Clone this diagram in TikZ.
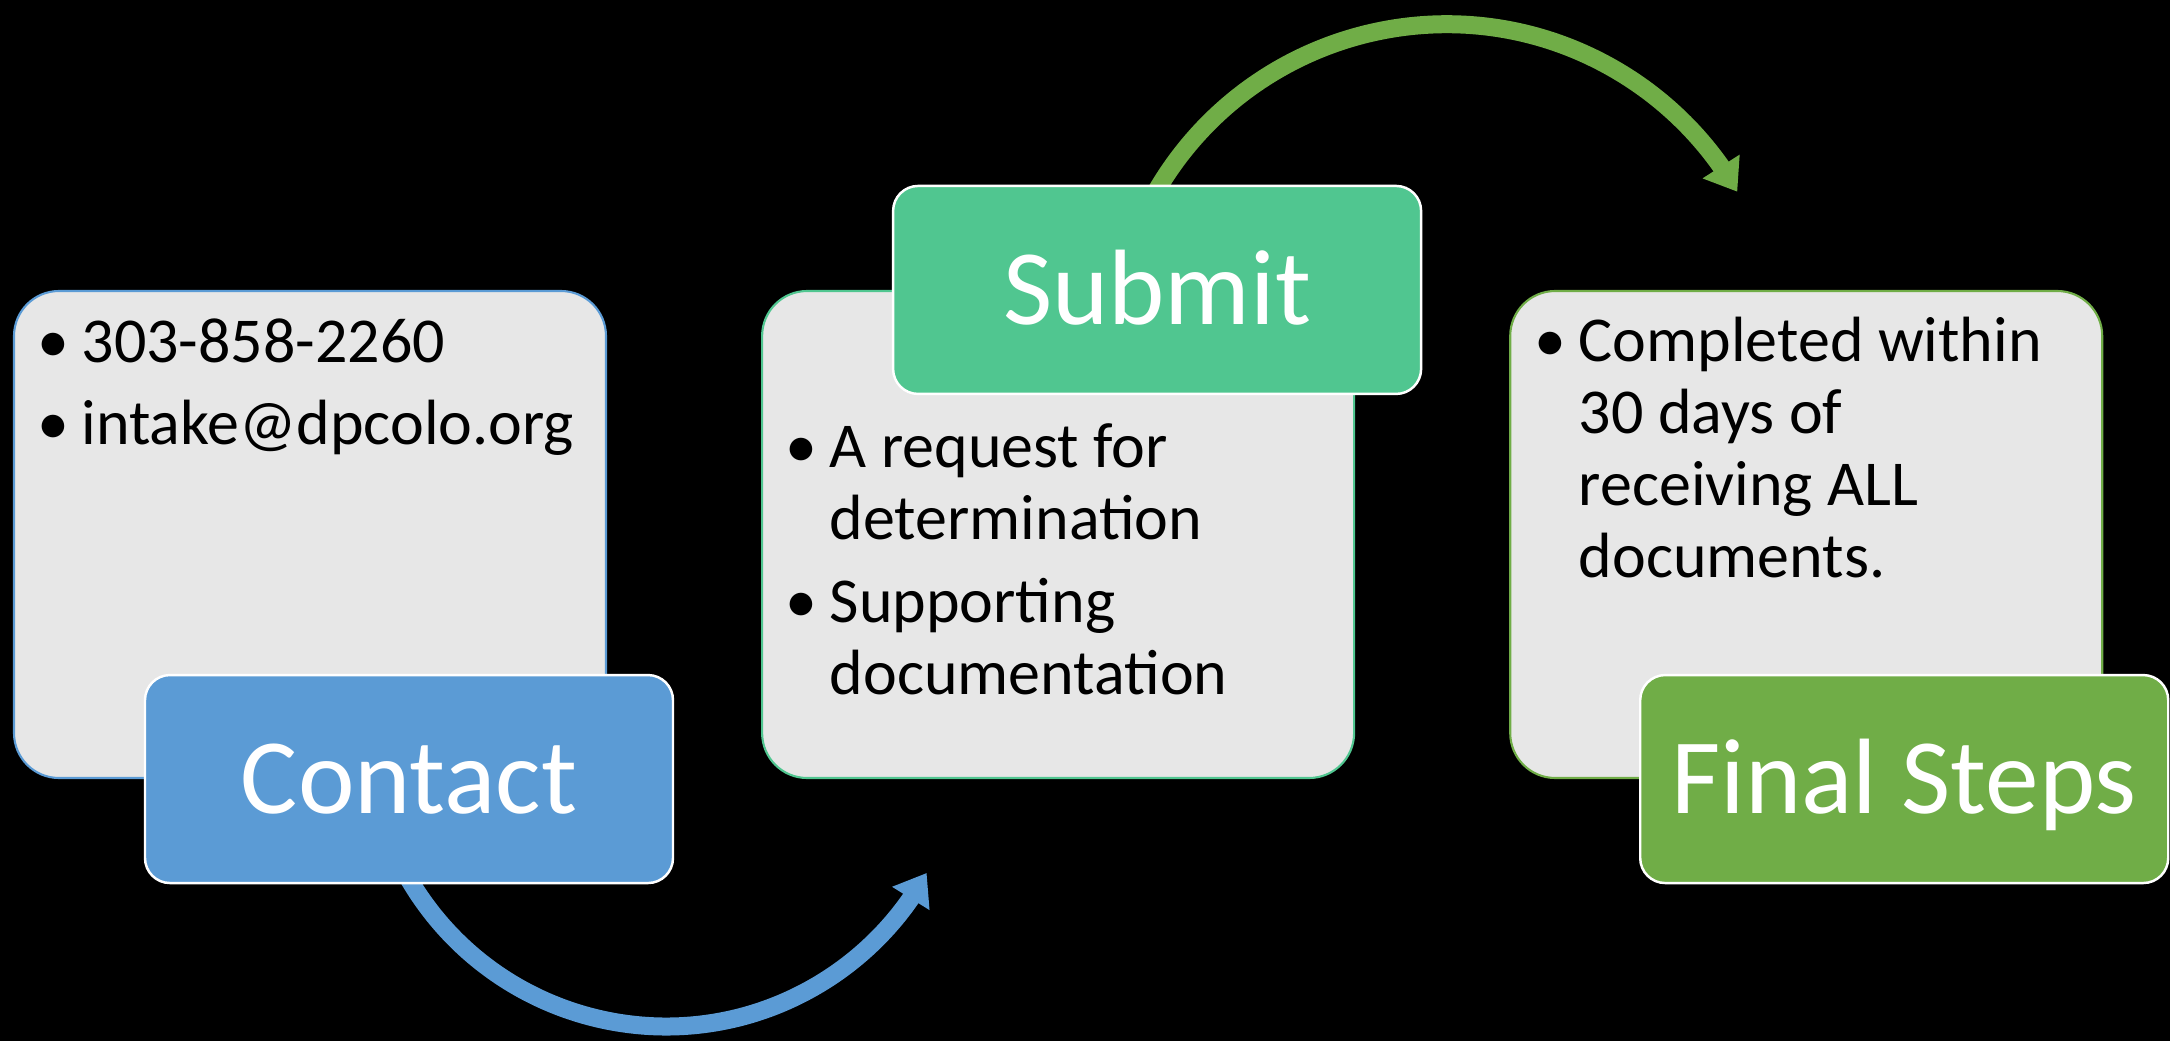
\documentclass[tikz,border=0pt]{standalone}
\usepackage{fontspec}
\setmainfont{Carlito}
\usetikzlibrary{positioning,arrows.meta,bending,backgrounds}

\definecolor{stepblue}{RGB}{91,155,213}
\definecolor{stepgreen}{RGB}{112,173,71}
\definecolor{stepteal}{RGB}{80,198,144}
\definecolor{panelgray}{RGB}{231,231,231}

% one bullet line with hanging indent
\newcommand{\bitem}[1]{\par\spaceskip=0pt\xspaceskip=0pt\hangindent=0.44cm\hangafter=1\noindent\strut\makebox[0.44cm][l]{\textbullet}#1}
\newcommand{\nl}{\hfil\break}

\begin{document}
\begin{tikzpicture}[
  panel/.style={draw=#1, line width=0.6pt, fill=panelgray, rounded corners=0.45cm,
    minimum width=5.92cm, minimum height=4.87cm, inner sep=0pt},
  stepbox/.style={draw=white, line width=0.7pt, fill=#1, rounded corners=0.25cm,
    minimum width=5.28cm, minimum height=2.08cm, inner sep=0pt, text=white,
    font=\fontsize{30.5pt}{36pt}\selectfont, text height=0.69cm, text depth=0pt},
  bullets/.style={anchor=north west, inner sep=0pt, text width=5.5cm, align=left,
    font=\fontsize{18.2pt}{20.5pt}\selectfont\setlength{\parskip}{3pt}},
  stepflow/.style={line width=0.18cm, draw=#1,
    -{Triangle[width=0.42cm,length=0.30cm,flex]}}
]
\useasboundingbox (0,0) rectangle (21.70,10.41);

% detail panels
\node[panel=stepblue] (info1) at (3.10,5.065) {};
\node[panel=stepteal] (info2) [right=1.54cm of info1] {};
\node[panel=stepgreen] (info3) [right=1.54cm of info2] {};

% step titles
\node[stepbox=stepblue] (contact) at ([xshift=0.99cm]info1.south) {Contact};
\node[stepbox=stepteal] (submit) at ([xshift=0.99cm]info2.north) {Submit};
\node[stepbox=stepgreen] (final) at ([xshift=0.98cm]info3.south) {Final Steps};

% bullet texts
\coordinate (list2top) at (info2.west |- submit.south);
\node[bullets] (list1) at ([shift={(0.24,0.11)}]info1.north west)
  {\bitem{303-858-2260}\bitem{intake@dpcolo.org}\par};
\node[bullets] (list2) at ([shift={(0.24,0.11)}]list2top)
  {\bitem{A request for\nl determination}\bitem{Supporting\nl documentation}\par};
\node[bullets] (list3) at ([shift={(0.25,0.12)}]info3.north west)
  {\bitem{Completed within\nl 30 days of\nl receiving ALL\nl documents.}\par};

% curved arrows
\begin{scope}[on background layer]
\fill[black] (0,0) rectangle (21.70,10.41);
\draw[stepflow=stepblue] ([yshift=0.05cm]contact.south) arc[start angle=210.4, end angle=331, radius=2.98cm];
\draw[stepflow=stepgreen] ([yshift=-0.05cm]submit.north) arc[start angle=149.5, end angle=30.1, radius=3.36cm];
\end{scope}
\end{tikzpicture}
\end{document}
